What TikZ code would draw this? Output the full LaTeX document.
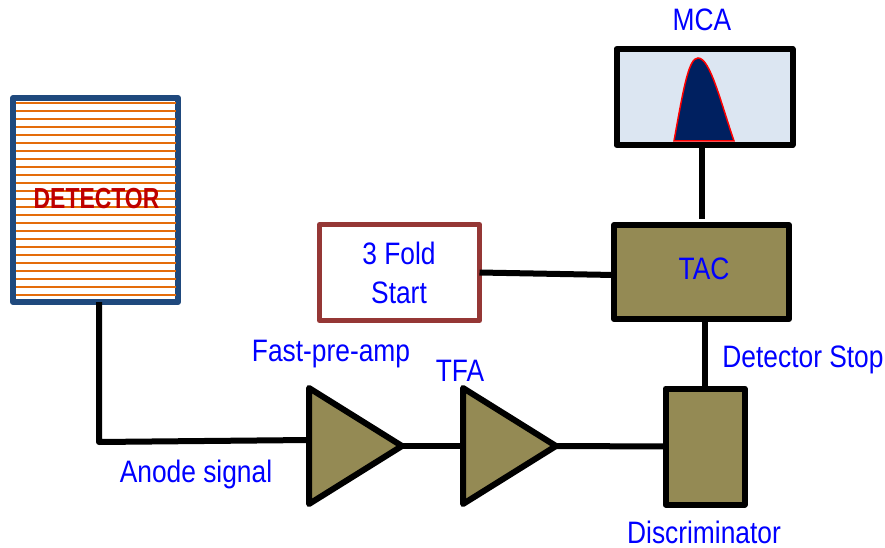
\documentclass[tikz,border=0pt]{standalone}
\usepackage{fontspec}
\setmainfont[FakeStretch=0.85]{Liberation Sans}
\usetikzlibrary{shapes.geometric,calc}
\definecolor{boxolive}{HTML}{948A54}
\definecolor{detblue}{HTML}{1F497D}
\definecolor{detorange}{HTML}{E46C0A}
\definecolor{mcabg}{HTML}{DCE6F2}
\definecolor{peaknavy}{HTML}{002060}
\definecolor{startred}{HTML}{953735}
\tikzset{
	wire/.style={line width=6pt, black},
	unitbox/.style={draw=black, line width=6pt, line join=round, fill=boxolive, outer sep=0pt, inner sep=0pt},
	amp/.style={isosceles triangle, isosceles triangle stretches, draw=black, line width=6pt, line join=round, fill=boxolive, outer sep=0pt, inner sep=0pt, minimum width=116pt, minimum height=93pt, anchor=lower side},
	lbl/.style={text=blue, font=\fontsize{31}{37}\selectfont, inner sep=0pt, align=center},
}
\begin{document}
\begin{tikzpicture}[x=1pt, y=-1pt]
	\useasboundingbox (0,0) rectangle (885,548);
	% detector
	\node[draw=detblue, fill=white, line width=6pt, line join=round, outer sep=0pt, minimum width=165pt, minimum height=204pt] (detector) at (95.5,200) {};
	\foreach \row in {0,...,24}
		\draw[detorange, line width=2.2pt] (16,102.7+8*\row) -- (176,102.7+8*\row);
	\node[text=red!75!black, font=\fontsize{29}{34}\selectfont\bfseries, xscale=0.93, inner sep=0pt] (detlabel) at (96.5,199) {DETECTOR};
	% amplifiers
	\node[amp] (fastamp) at (309,446) {};
	\node[amp] (tfa) at (463,446) {};
	% boxes
	\node[unitbox, minimum width=79pt, minimum height=116pt] (disc) at (705,446.5) {};
	\node[unitbox, minimum width=175pt, minimum height=94pt] (tac) at (701.5,272) {};
	\node[unitbox, fill=white, draw=startred, line width=5pt, minimum width=160pt, minimum height=96pt] (start) at (399.5,272.5) {};
	\node[unitbox, fill=mcabg, minimum width=176pt, minimum height=96pt] (mca) at (704.5,97) {};
	% peak
	\draw[red, fill=peaknavy, line width=1.5pt] (674,141) .. controls (684,85) and (689,58) .. (698,58) .. controls (710,58) and (720,100) .. (734,141) -- cycle;
	% wires
	\coordinate (bend) at (99,442);
	\coordinate (ampin) at (309,440);
	\draw[wire, line join=round] (bend |- detector.south) -- (bend) -- (ampin);
	\draw[wire] (fastamp.apex) -- (tfa.lower side);
	\draw[wire] (tfa.apex) -- (disc.west);
	\draw[wire] (start.east) -- ($(tac.west)+(0,3)$);
	\draw[wire] (702,148) -- (702,219);
	\draw[wire] (705,322) -- (705,386);
	% labels
	\node[lbl] (mcalabel) at (702,20) {MCA};
	\node[lbl] (taclabel) at (704,269) {TAC};
	\node[lbl] (startlabel) at (399,273) {3 Fold\\[2pt]Start};
	\node[lbl] (fastlabel) at (331,354) {Fast-pre-amp};
	\node[lbl] (tfalabel) at (460,371) {TFA};
	\node[lbl] (anodelabel) at (196,474) {Anode signal};
	\node[lbl] (stoplabel) at (803,360) {Detector Stop};
	\node[lbl] (disclabel) at (704,532) {Discriminator};
\end{tikzpicture}
\end{document}
